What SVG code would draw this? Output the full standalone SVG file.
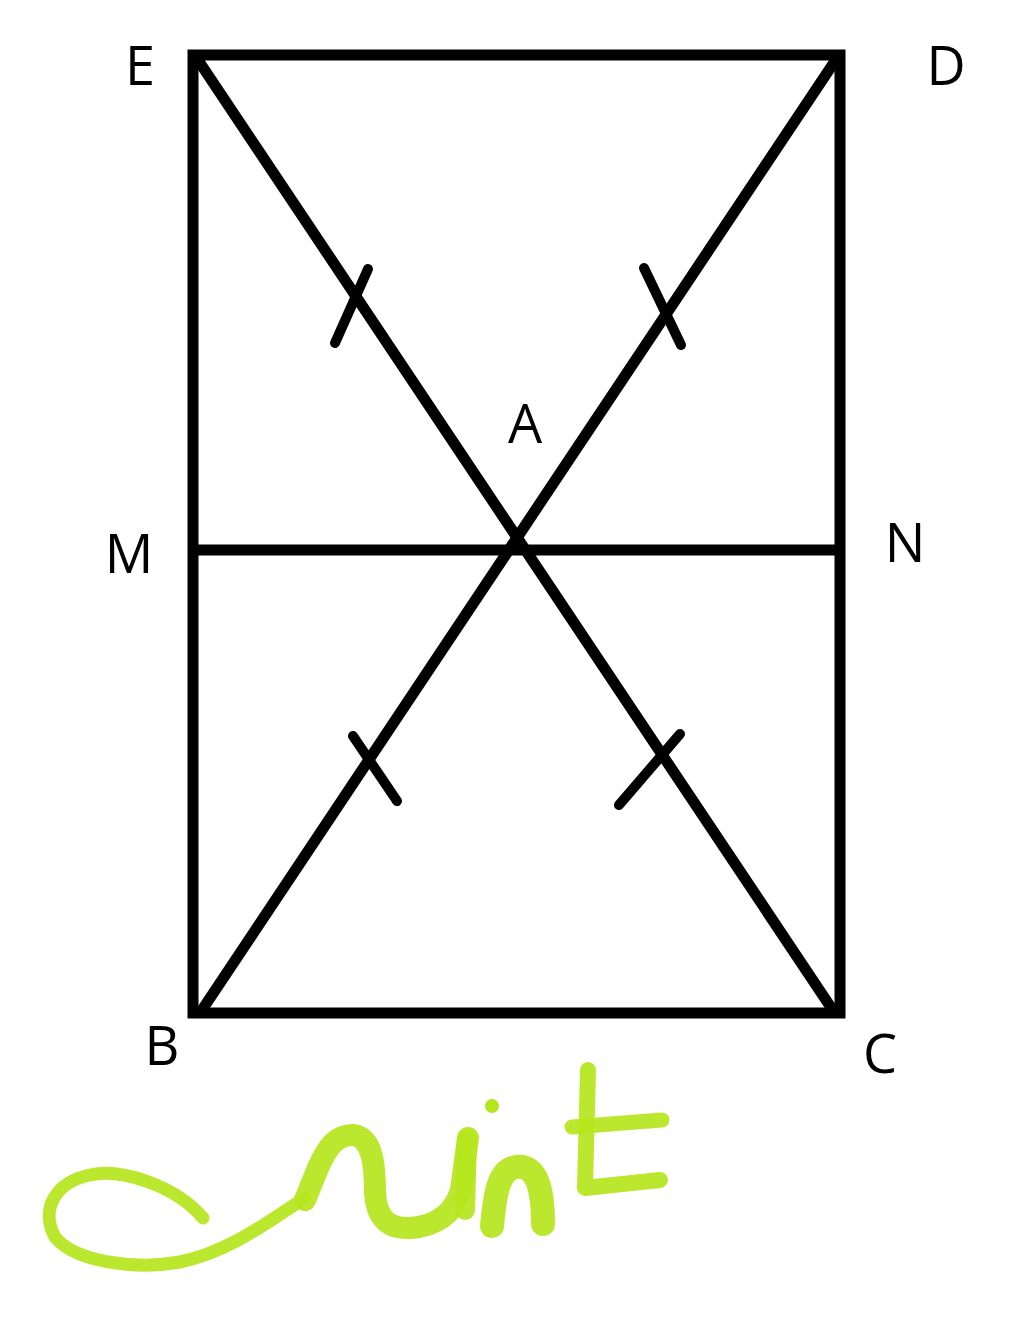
<svg xmlns="http://www.w3.org/2000/svg" width="1024" height="1326" viewBox="0 0 1024 1326">
<style>
.ln{stroke:#000;stroke-width:11;fill:none;stroke-linecap:butt}
.tk{stroke:#000;stroke-width:10;fill:none;stroke-linecap:round}
.lb{font-family:"Open Sans","Liberation Sans",sans-serif;font-size:54px;fill:#000;text-anchor:middle}
.sg{stroke:#b5e61d;fill:none;stroke-linecap:round;stroke-linejoin:round;opacity:0.92}
</style>
<rect width="1024" height="1326" fill="#fff"/>
<g id="connectors">
<rect x="193" y="55" width="647" height="958" class="ln" stroke-linejoin="miter"/>
<line x1="196" y1="57" x2="834" y2="1012" class="ln"/>
<line x1="837" y1="58" x2="200" y2="1013" class="ln"/>
<line x1="193" y1="550" x2="840" y2="550" class="ln" stroke-width="10"/>
<line x1="335" y1="343" x2="368" y2="269" class="tk"/>
<line x1="644" y1="268" x2="681" y2="345" class="tk"/>
<line x1="353" y1="736" x2="397" y2="801" class="tk"/>
<line x1="680" y1="734" x2="619" y2="805" class="tk"/>
</g>
<g id="node-E"><text x="140" y="85" class="lb">E</text></g>
<g id="node-D"><text x="946" y="85" class="lb">D</text></g>
<g id="node-A"><text x="525" y="443" class="lb">A</text></g>
<g id="node-M"><text x="129" y="573" class="lb">M</text></g>
<g id="node-N"><text x="905" y="562" class="lb">N</text></g>
<g id="node-B"><text x="162" y="1065" class="lb">B</text></g>
<g id="node-C"><text x="880" y="1073" class="lb">C</text></g>
<g id="signature">
<path class="sg" stroke-width="13" opacity="0.75" d="M203,1218 C175,1185 120,1168 90,1175 C55,1182 40,1210 55,1237 C75,1262 135,1270 180,1262 C230,1252 270,1220 305,1198"/>
<path class="sg" stroke-width="22" d="M305,1200 L318,1168 C328,1145 338,1134 354,1135 C371,1138 375,1160 375,1192 C376,1216 386,1229 410,1228 C436,1226 454,1214 461,1190 L468,1138"/>
<path class="sg" stroke-width="20" d="M467,1140 L465,1210"/>
<path class="sg" stroke-width="24" d="M492,1226 C495,1195 498,1170 516,1167 C538,1164 543,1192 543,1224"/>
<circle cx="492" cy="1106" r="7" fill="#b5e61d"/>
<path class="sg" stroke-width="16" d="M588,1070 L585,1188 L660,1180"/>
<path class="sg" stroke-width="15" d="M572,1127 L662,1120"/>
</g>
</svg>
